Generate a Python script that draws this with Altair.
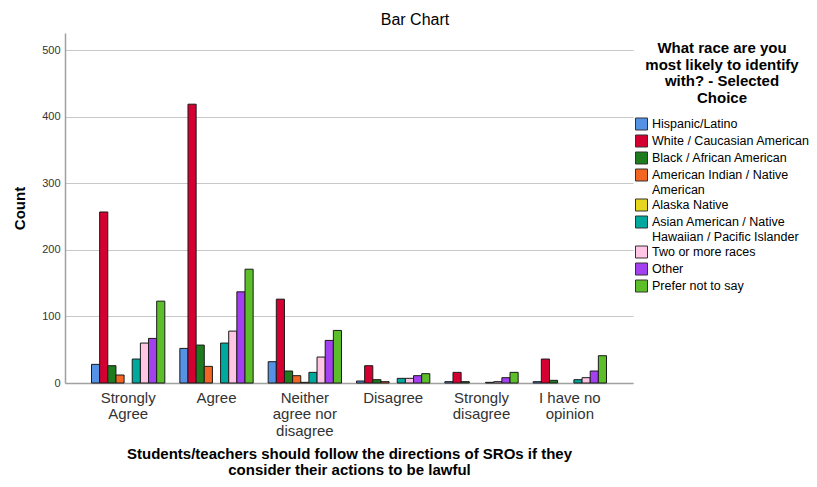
import altair as alt
import pandas as pd

categories = ["Strongly Agree", "Agree", "Neither agree nor disagree",
              "Disagree", "Strongly disagree", "I have no opinion"]
category_lines = {
    "Strongly Agree": ["Strongly", "Agree"],
    "Agree": ["Agree"],
    "Neither agree nor disagree": ["Neither", "agree nor", "disagree"],
    "Disagree": ["Disagree"],
    "Strongly disagree": ["Strongly", "disagree"],
    "I have no opinion": ["I have no", "opinion"],
}
races = ["Hispanic/Latino", "White / Caucasian American", "Black / African American",
         "American Indian / Native American", "Alaska Native",
         "Asian American / Native Hawaiian / Pacific Islander",
         "Two or more races", "Other", "Prefer not to say"]
race_lines = {
    "American Indian / Native American": ["American Indian / Native", "American"],
    "Asian American / Native Hawaiian / Pacific Islander": ["Asian American / Native", "Hawaiian / Pacific Islander"],
}
colors = ["#5592E5", "#D50032", "#1E7B1E", "#F26522", "#E6D71E",
          "#00A99D", "#FFC5E5", "#A340F0", "#5CBF2A"]

# counts per race, in category order
hispanic = [28, 52, 32, 3, 2, 2]
white = [257, 419, 126, 26, 16, 36]
black = [26, 57, 18, 5, 2, 4]
am_indian = [12, 25, 11, 2, 0, 0]
alaska = [0, 0, 1, 0, 0, 0]
asian = [36, 60, 16, 7, 1, 5]
two_more = [60, 78, 39, 7, 2, 8]
other = [67, 137, 64, 11, 8, 18]
prefer = [123, 171, 79, 14, 16, 41]

series = [hispanic, white, black, am_indian, alaska, asian, two_more, other, prefer]
rows = []
for race, vals in zip(races, series):
    for cat, v in zip(categories, vals):
        rows.append({"category": cat, "race": race, "count": v})
df = pd.DataFrame(rows)

FONT = "Liberation Sans"

def lines_expr(mapping, field):
    parts = []
    for k, v in mapping.items():
        arr = "[" + ",".join("'" + s + "'" for s in v) + "]"
        parts.append(f"{field} == '{k}' ? {arr} : ")
    return "".join(parts) + field

x_label_expr = lines_expr(category_lines, "datum.label")
legend_label_expr = lines_expr(race_lines, "datum.label")

chart = alt.Chart(df).transform_filter("datum.count > 0").mark_bar(
    stroke="#1a1a1a", strokeWidth=1
).encode(
    x=alt.X("category:N", sort=categories,
            scale=alt.Scale(paddingInner=0.17, paddingOuter=0.3),
            axis=alt.Axis(
                labelAngle=0, labelExpr=x_label_expr, labelFontSize=15,
                labelColor="#333333", labelPadding=7, labelLineHeight=16.5,
                labelFont=FONT, ticks=False, domainColor="#a0a0a0", domainWidth=1.5,
                title=["Students/teachers should follow the directions of SROs if they",
                       "consider their actions to be lawful"],
                titleFont=FONT, titleFontSize=15, titleFontWeight="bold",
                titleColor="#000000", titleLineHeight=16, titleX=284, titleY=63,
                titleAlign="center", titleBaseline="top")),
    xOffset=alt.XOffset("race:N", sort=races,
                        scale=alt.Scale(domain=races, paddingInner=0, paddingOuter=0)),
    y=alt.Y("count:Q", scale=alt.Scale(domain=[0, 526], nice=False),
            axis=alt.Axis(values=[0, 100, 200, 300, 400, 500], labelFontSize=11,
                          labelColor="#333333", labelFont=FONT, labelPadding=5,
                          ticks=False, gridColor="#c8c8c8", gridWidth=1,
                          domainColor="#a0a0a0", domainWidth=1.5,
                          title="Count", titleFont=FONT, titleFontSize=15,
                          titleFontWeight="bold", titleColor="#000000",
                          titleX=-46, titleY=175, titleAngle=270,
                          titleAlign="center", titleBaseline="middle")),
    color=alt.Color("race:N", sort=races,
                    scale=alt.Scale(domain=races, range=colors),
                    legend=alt.Legend(
                        orient="none", legendX=570, legendY=8,
                        title=["What race are you", "most likely to identify",
                               "with? - Selected", "Choice"],
                        titleFont=FONT, titleFontSize=15, titleFontWeight="bold",
                        titleColor="#000000", titleAlign="center", titleAnchor="middle",
                        titleLineHeight=16.5, titlePadding=12, titleLimit=300,
                        labelExpr=legend_label_expr, labelFont=FONT, labelFontSize=12.5,
                        labelColor="#000000", labelLimit=300,
                        labelOffset=4, symbolType="square", symbolSize=144,
                        symbolStrokeColor="#333333", symbolStrokeWidth=1,
                        symbolOpacity=1, rowPadding=0, padding=0)),
).properties(
    width=568, height=350,
    title=alt.TitleParams("Bar Chart", anchor="middle", dx=66, offset=5,
                          fontSize=16, font=FONT, fontWeight="normal", color="#000000"),
    autosize=alt.AutoSizeParams(type="none"),
    padding={"left": 57, "top": 25, "right": 176, "bottom": 96},
).configure_view(stroke=None)

chart.save("out.html", embed_options={"renderer": "svg", "actions": False})
